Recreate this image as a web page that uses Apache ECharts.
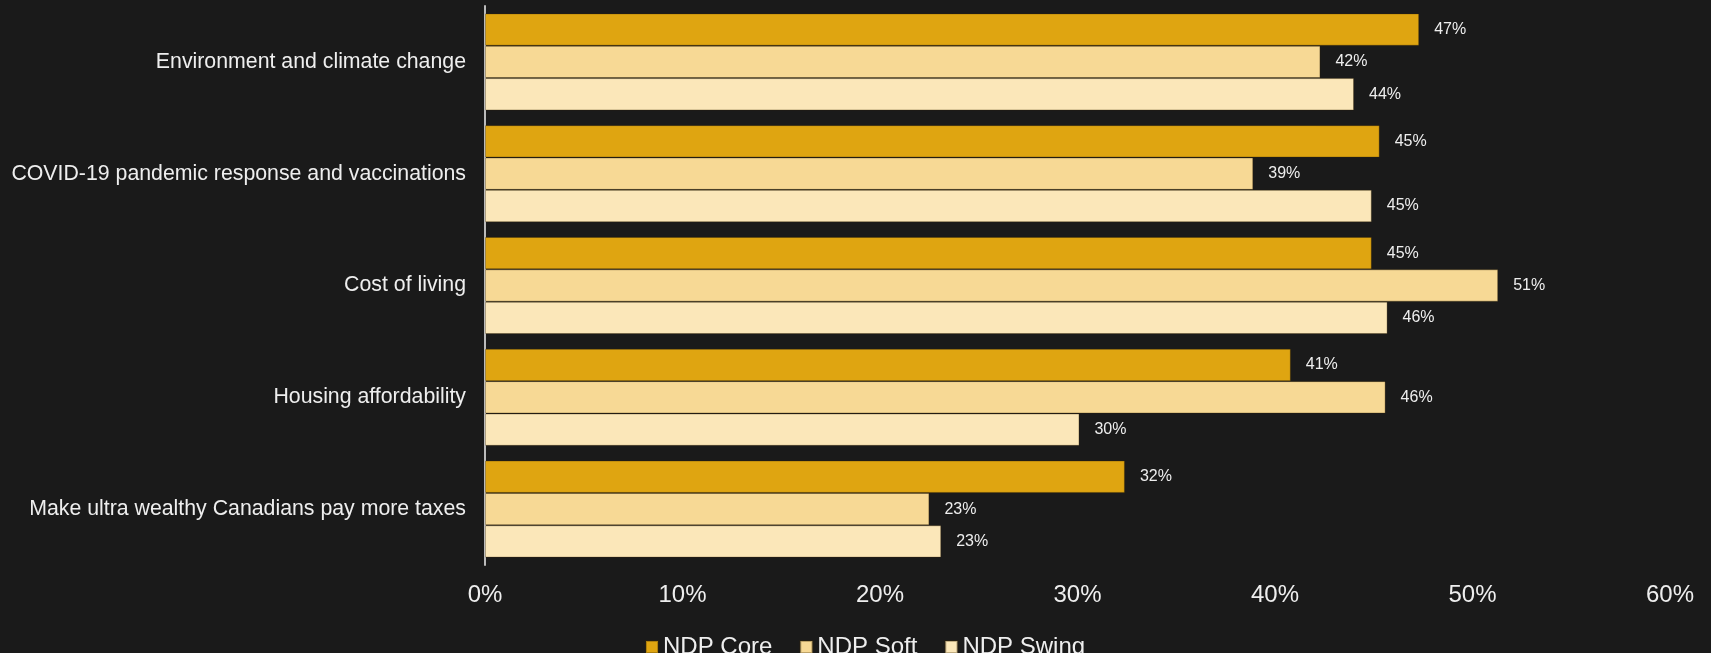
<!DOCTYPE html>
<html>
<head>
<meta charset="utf-8">
<script src="https://cdn.jsdelivr.net/npm/echarts@6/dist/echarts.min.js"></script>
<style>
html,body{margin:0;padding:0;background:#1a1a1a;}
#c{width:1711px;height:653px;}
</style>
</head>
<body>
<div id="c"></div>
<script>
const categories = [
  "Environment and climate change",
  "COVID-19 pandemic response and vaccinations",
  "Cost of living",
  "Housing affordability",
  "Make ultra wealthy Canadians pay more taxes"
];
const seriesNames = ["NDP Core", "NDP Soft", "NDP Swing"];
const ndpCore  = [47.3, 45.3, 44.9, 40.8, 32.4];
const ndpSoft  = [42.3, 38.9, 51.3, 45.6, 22.5];
const ndpSwing = [44.0, 44.9, 45.7, 30.1, 23.1];
const xTicks = [0, 10, 20, 30, 40, 50, 60];

const colors = ["#dfa511", "#f7d995", "#fbe7b9"];
const font = "'Liberation Sans', Arial, sans-serif";

const chart = echarts.init(document.getElementById('c'));
const mk = (name, data, i) => ({
  name: name,
  type: 'bar',
  data: data,
  barGap: '0%',
  barCategoryGap: '13.2%',
  itemStyle: { color: colors[i], borderColor: 'rgba(60,40,0,0.3)', borderWidth: 1 },
  label: {
    show: true,
    position: 'right',
    distance: 15,
    color: '#eeeeee',
    fontSize: 16,
    fontFamily: font,
    formatter: p => Math.round(p.value) + '%'
  }
});
chart.setOption({
  backgroundColor: '#1a1a1a',
  animation: false,
  textStyle: { fontFamily: font },
  grid: { left: 485, right: 41, top: 6, bottom: 88, containLabel: false },
  legend: {
    data: seriesNames,
    left: 645,
    top: 635,
    padding: 0,
    itemWidth: 12,
    itemHeight: 12,
    itemGap: 27,
    icon: 'rect',
    textStyle: { color: '#eeeeee', fontSize: 24, fontFamily: font }
  },
  xAxis: {
    type: 'value',
    min: xTicks[0],
    max: xTicks[xTicks.length - 1],
    interval: xTicks[1] - xTicks[0],
    splitLine: { show: false },
    axisLine: { show: false },
    axisTick: { show: false },
    axisLabel: { color: '#eeeeee', fontSize: 24, fontFamily: font, margin: 18, formatter: v => v + '%' }
  },
  yAxis: {
    type: 'category',
    data: categories,
    inverse: true,
    axisLine: { show: true, lineStyle: { color: '#bbbbbb', width: 2 } },
    axisTick: { show: false },
    axisLabel: { color: '#eeeeee', fontSize: 21.3, fontFamily: font, margin: 19 }
  },
  series: [mk(seriesNames[0], ndpCore, 0), mk(seriesNames[1], ndpSoft, 1), mk(seriesNames[2], ndpSwing, 2)]
});
</script>
</body>
</html>
